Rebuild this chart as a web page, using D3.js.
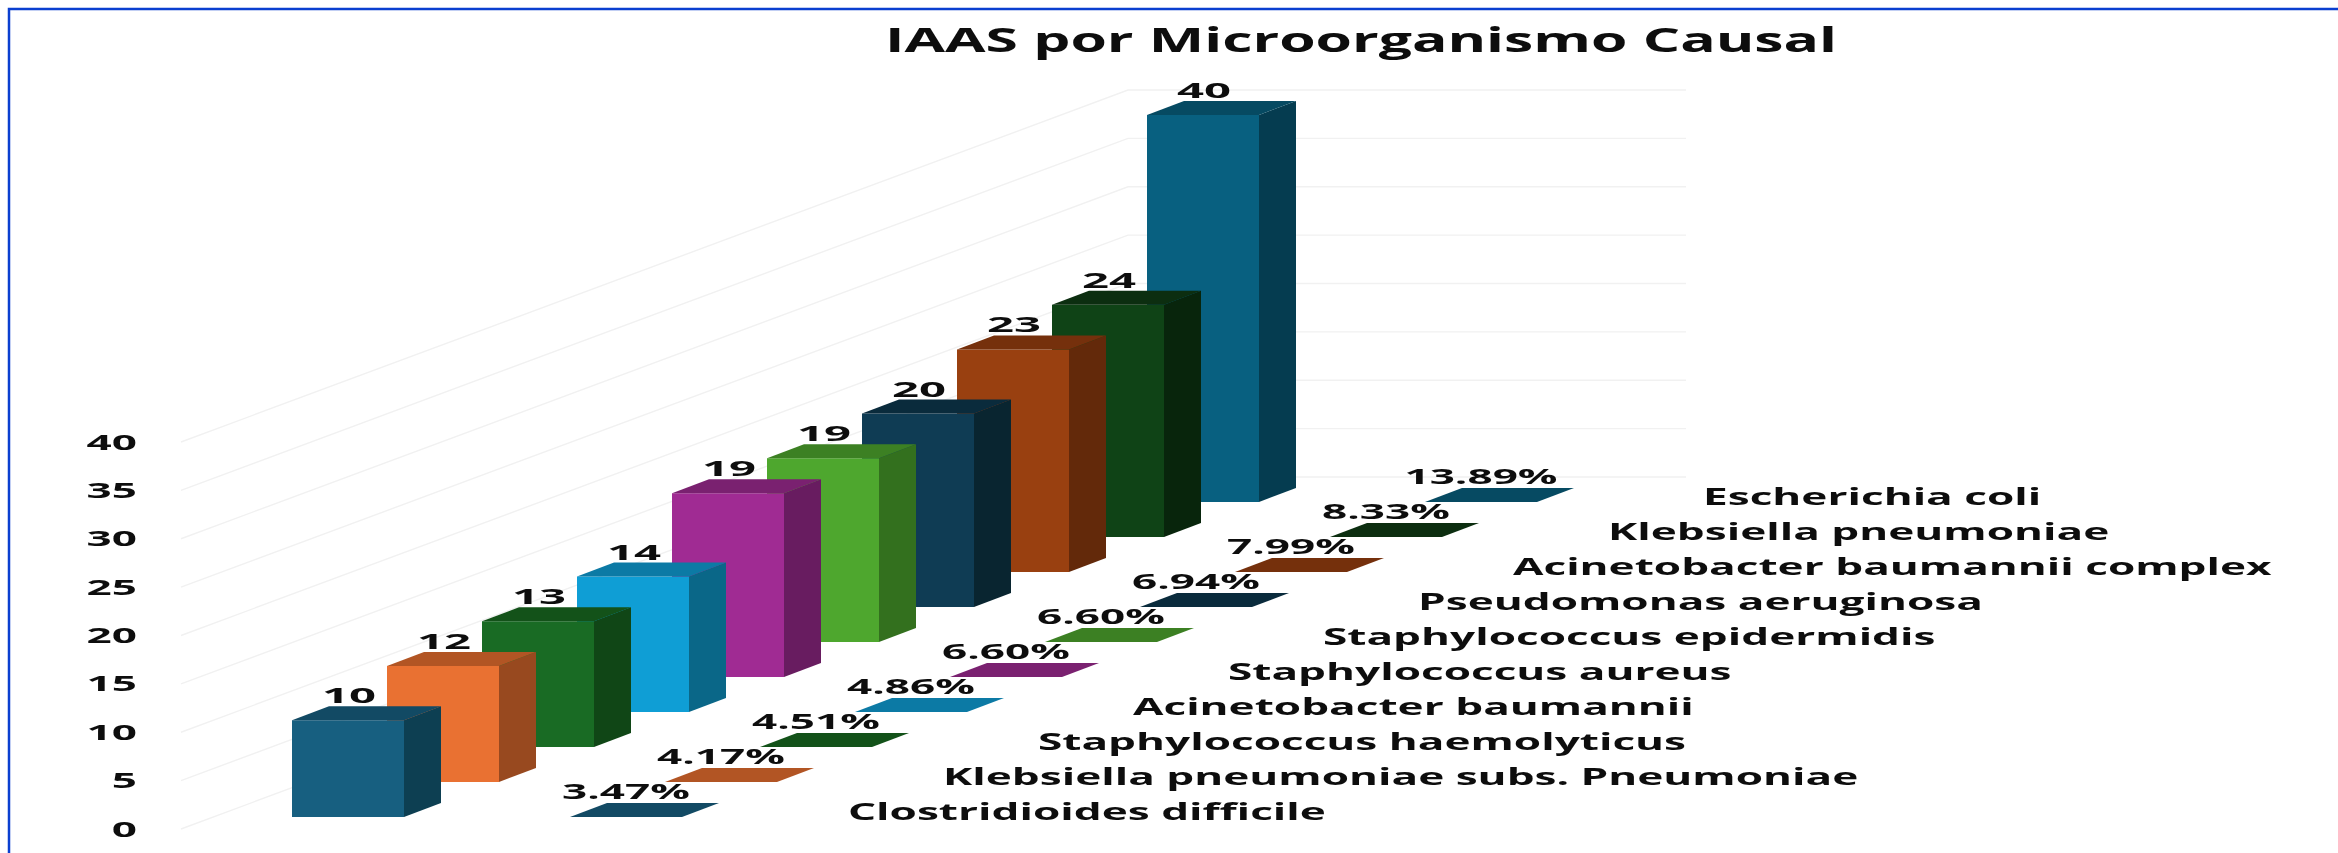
<!DOCTYPE html>
<html><head><meta charset="utf-8">
<script src="https://cdn.jsdelivr.net/npm/d3@7/dist/d3.min.js"></script>
<style>html,body{margin:0;padding:0;background:#fff}svg{display:block}
text{font-family:"Open Sans",sans-serif;font-weight:700;fill:#111}</style></head>
<body><svg id="c" width="2338" height="853"></svg>
<script>
const titleText = "IAAS por Microorganismo Causal";
const categories = ["Clostridioides difficile","Klebsiella pneumoniae subs. Pneumoniae","Staphylococcus haemolyticus","Acinetobacter baumannii","Staphylococcus aureus","Staphylococcus epidermidis","Pseudomonas aeruginosa","Acinetobacter baumannii complex","Klebsiella pneumoniae","Escherichia coli"];
const counts = [10,12,13,14,19,19,20,23,24,40];
const percents = ["3.47%","4.17%","4.51%","4.86%","6.60%","6.60%","6.94%","7.99%","8.33%","13.89%"];
const yTicks = [0,5,10,15,20,25,30,35,40];
const frontColors = ["#175F80","#E97132","#196B24","#0F9ED5","#A02B93","#4EA72E","#0F3C54","#994010","#0F4316","#086080"];
const sideColors  = ["#0D3F52","#98491F","#104616","#0A6788","#681C60","#33701E","#092530","#63290A","#08250C","#053C50"];
const topColors   = ["#124A64","#B25524","#135219","#0C7AA5","#7A2170","#3C8023","#0A2B3C","#75300C","#0C2E10","#064A62"];

const W=2338,H=853, svg=d3.select("#c");
const idx=d3.range(categories.length);
const x=d3.scaleLinear().domain([0,9]).range([292,1147]);
const base=d3.scaleLinear().domain([0,9]).range([817,502]);
const h=d3.scaleLinear().domain([0,40]).range([0,387]);
const barW=112, dX=37, dY=14, pieX=278, legX=556;
const line=d3.line();
function put(sel,px,py,sx){return sel.attr("transform",(d,i)=>`translate(${px(d,i)},${py(d,i)}) scale(${sx},1)`);}

const defs=svg.append("defs");
defs.append("filter").attr("id","soft").append("feGaussianBlur").attr("stdDeviation",0.55);

// frame: left and top only
svg.append("path").attr("d",line([[9,H],[9,9],[W,9]])).attr("fill","none").attr("stroke","#0a3fd0").attr("stroke-width",2.5);

// gridlines
const y0=d3.scaleLinear().domain([0,40]).range([829,442]);
const yB=d3.scaleLinear().domain([0,40]).range([477,90]);
svg.append("g").selectAll("path").data(yTicks).join("path")
 .attr("d",t=>line([[181,y0(t)],[1128,yB(t)],[1686,yB(t)]]))
 .attr("fill","none").attr("stroke","#f1f1f1").attr("stroke-width",1.4);

// bars back to front
const bars=svg.append("g").selectAll("g").data(idx.slice().reverse()).join("g");
bars.append("path").attr("fill",i=>frontColors[i]).attr("d",i=>{const a=x(i),b=base(i),t=b-h(counts[i]);return line([[a,b],[a,t],[a+barW,t],[a+barW,b]])+"Z";});
bars.append("path").attr("fill",i=>sideColors[i]).attr("d",i=>{const a=x(i)+barW,b=base(i),t=b-h(counts[i]);return line([[a,b],[a,t],[a+dX,t-dY],[a+dX,b-dY]])+"Z";});
bars.append("path").attr("fill",i=>topColors[i]).attr("d",i=>{const a=x(i),t=base(i)-h(counts[i]);return line([[a,t],[a+barW,t],[a+barW+dX,t-dY],[a+dX,t-dY]])+"Z";});

// flat percentage tiles
svg.append("g").selectAll("path").data(idx).join("path").attr("fill",i=>topColors[i]).attr("d",i=>{const a=x(i)+pieX,b=base(i);return line([[a,b],[a+barW,b],[a+barW+dX,b-dY],[a+dX,b-dY]])+"Z";});

const labels=svg.append("g").attr("filter","url(#soft)");
// value labels
put(labels.append("g").selectAll("text").data(idx).join("text").text(i=>counts[i]).attr("font-size",21).attr("text-anchor","middle"),
 i=>x(i)+barW/2+1,i=>base(i)-h(counts[i])-dY-3,2.25);
// percent labels
put(labels.append("g").selectAll("text").data(idx).join("text").text(i=>percents[i]).attr("font-size",21).attr("text-anchor","middle"),
 i=>x(i)+pieX+barW/2,i=>base(i)-18,2.1);
// category labels
put(labels.append("g").selectAll("text").data(idx).join("text").text(i=>categories[i]).attr("font-size",23),
 i=>x(i)+legX,i=>base(i)+3,1.92);
// y axis
const ax=labels.append("g").attr("transform","translate(137,0)").call(d3.axisLeft(y0).tickValues(yTicks).tickSize(0).tickPadding(0));
ax.select(".domain").remove();
ax.attr("font-family",null).attr("font-size",null);
ax.selectAll("text").attr("font-size",21).attr("x",null).attr("dy",null).attr("text-anchor","end")
  .attr("transform",`translate(0,7) scale(2.1,1)`);
// title
labels.append("text").text(titleText).attr("font-size",34).attr("text-anchor","middle").attr("transform",`translate(1361,52) scale(1.73,1)`);
</script></body></html>
